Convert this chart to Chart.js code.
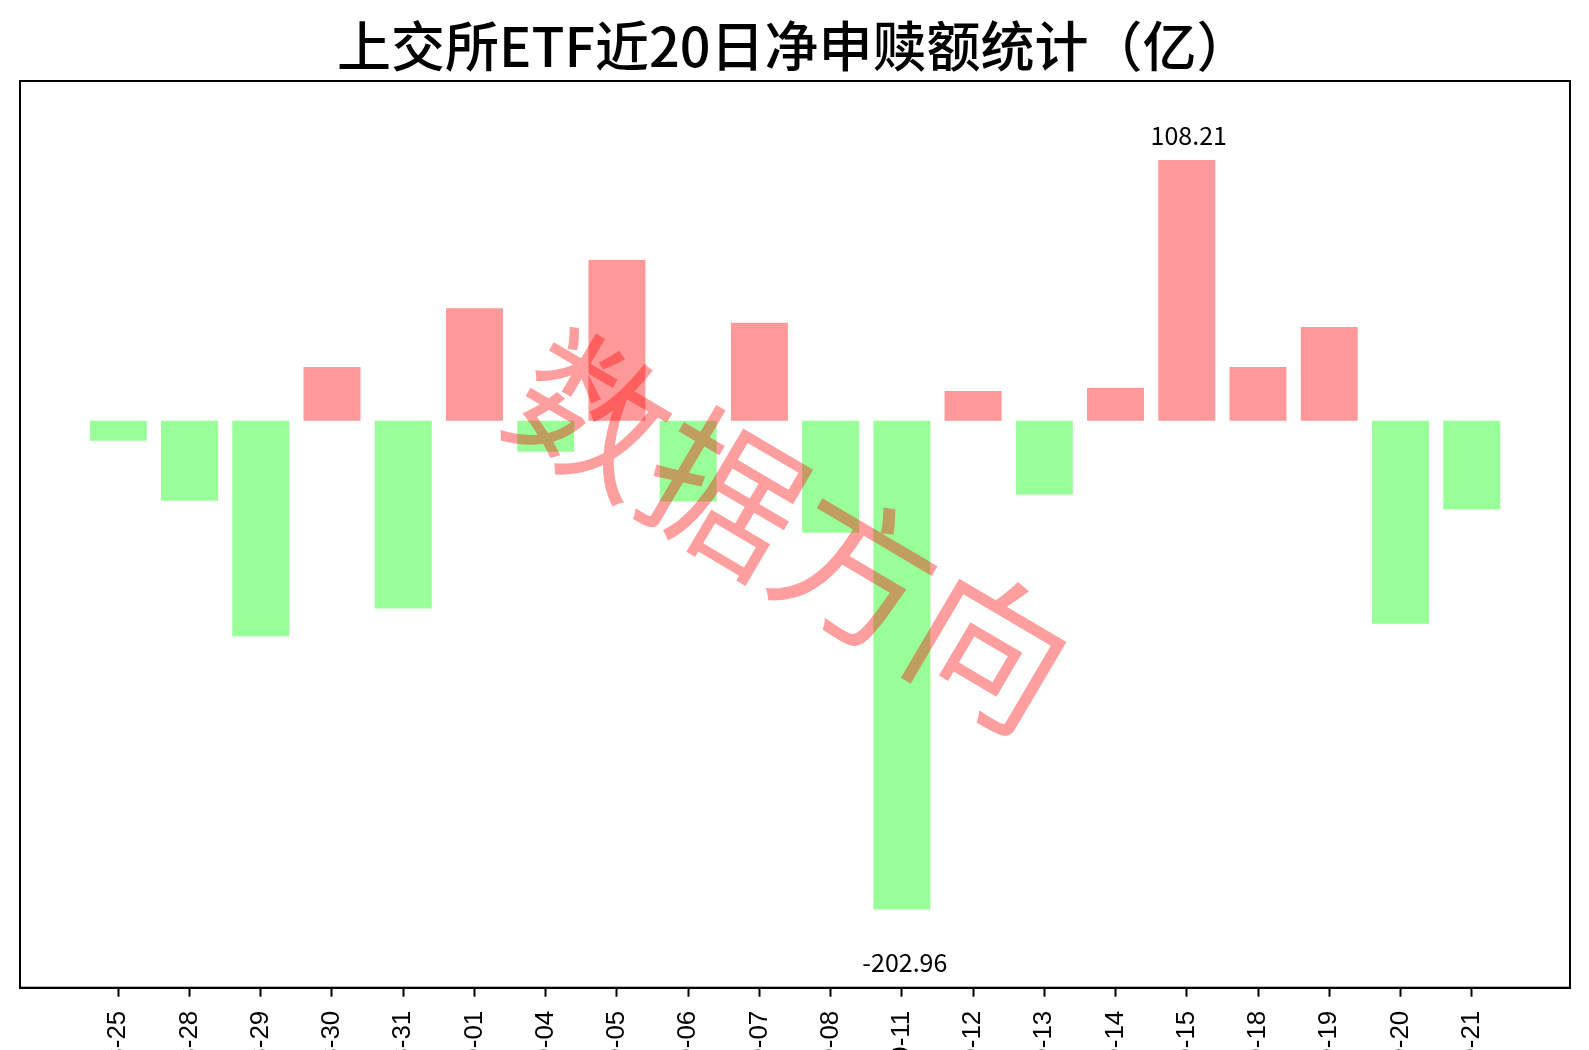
<!DOCTYPE html>
<html>
<head>
<meta charset="utf-8">
<script src="https://cdn.jsdelivr.net/npm/chart.js@4"></script>
<style>
  html, body { margin: 0; padding: 0; background: #ffffff; overflow: hidden; }
  #wrap { width: 1589px; height: 1050px; position: relative; }
</style>
</head>
<body>
<div id="wrap"><canvas id="c" width="1589" height="1050"></canvas></div>
<script>
// ---- data ----
const titleText = '上交所ETF近20日净申赎额统计（亿）';
const watermarkText = '数据方向';
const dates = [
  '2023-08-25', '2023-08-28', '2023-08-29', '2023-08-30', '2023-08-31',
  '2023-09-01', '2023-09-04', '2023-09-05', '2023-09-06', '2023-09-07',
  '2023-09-08', '2023-09-11', '2023-09-12', '2023-09-13', '2023-09-14',
  '2023-09-15', '2023-09-18', '2023-09-19', '2023-09-20', '2023-09-21'
];
const netFlow = [
  -8.3, -33.2, -89.5, 22.3, -78.0,
  46.7, -12.9, 66.7, -33.6, 40.6,
  -46.5, -202.96, 12.3, -30.8, 13.6,
  108.21, 22.3, 38.9, -84.3, -36.9
];
const yMin = -235.4;
const yMax = 141.0;

// ---- styles ----
const posColor = '#FF9999';
const negColor = '#99FF99';

const points = netFlow.map((v, i) => ({ x: i, y: v }));
const colors = netFlow.map(v => v >= 0 ? posColor : negColor);

const maxIdx = netFlow.indexOf(Math.max(...netFlow));
const minIdx = netFlow.indexOf(Math.min(...netFlow));

const decorPlugin = {
  id: 'decor',
  afterDatasetsDraw(chart) {
    const ctx = chart.ctx;
    const xs = chart.scales.x, ys = chart.scales.y;
    const area = chart.chartArea;
    // extremes annotations
    ctx.save();
    ctx.fillStyle = '#000';
    ctx.font = '25px "Noto Sans CJK SC", "DejaVu Sans", sans-serif';
    ctx.textAlign = 'center';
    ctx.textBaseline = 'middle';
    ctx.fillText(netFlow[maxIdx].toFixed(2), xs.getPixelForValue(maxIdx) + 2, ys.getPixelForValue(netFlow[maxIdx]) - 24);
    ctx.fillText(netFlow[minIdx].toFixed(2), xs.getPixelForValue(minIdx) + 3, ys.getPixelForValue(netFlow[minIdx]) + 53);
    ctx.restore();
    // watermark
    ctx.save();
    ctx.translate(791, 531);
    ctx.rotate(30.5 * Math.PI / 180);
    ctx.font = '154px "Noto Sans CJK SC", sans-serif';
    ctx.fillStyle = 'rgba(255,0,0,0.38)';
    ctx.textAlign = 'center';
    ctx.textBaseline = 'middle';
    ctx.fillText(watermarkText, 0, 0);
    ctx.restore();
    // frame
    ctx.save();
    ctx.strokeStyle = '#000';
    ctx.lineWidth = 2;
    ctx.strokeRect(area.left, area.top, area.right - area.left, area.bottom - area.top);
    ctx.restore();
  },
  afterDraw(chart) {
    const ctx = chart.ctx;
    ctx.save();
    ctx.fillStyle = '#000';
    ctx.font = '500 54px "Noto Sans CJK SC", sans-serif';
    ctx.textAlign = 'left';
    ctx.textBaseline = 'middle';
    ctx.fillText(titleText, 337, 46);
    ctx.restore();
  }
};

new Chart(document.getElementById('c'), {
  type: 'bar',
  data: {
    datasets: [{
      data: points,
      backgroundColor: colors,
      borderWidth: 0,
      barPercentage: 0.8,
      categoryPercentage: 1.0
    }]
  },
  options: {
    responsive: false,
    devicePixelRatio: 1,
    animation: false,
    layout: { padding: { left: 20, right: 19, top: 81, bottom: 0 } },
    plugins: {
      legend: { display: false },
      title: { display: false },
      tooltip: { enabled: false }
    },
    scales: {
      x: {
        type: 'linear',
        min: -1.38,
        max: 20.38,
        offset: false,
        afterBuildTicks(scale) {
          scale.ticks = dates.map((d, i) => ({ value: i }));
        },
        afterFit(scale) {
          scale.height = 62.3;
        },
        ticks: {
          autoSkip: false,
          minRotation: 90,
          maxRotation: 90,
          padding: 14,
          color: '#000',
          font: { family: '"Liberation Sans", Arial, sans-serif', size: 26 },
          callback: (v) => dates[v]
        },
        grid: {
          display: true,
          offset: false,
          drawOnChartArea: false,
          drawTicks: true,
          tickLength: 9,
          tickWidth: 2,
          tickColor: '#000'
        },
        border: { display: true, color: '#000', width: 2 }
      },
      y: {
        type: 'linear',
        display: false,
        min: yMin,
        max: yMax
      }
    }
  },
  plugins: [decorPlugin]
});
</script>
</body>
</html>
